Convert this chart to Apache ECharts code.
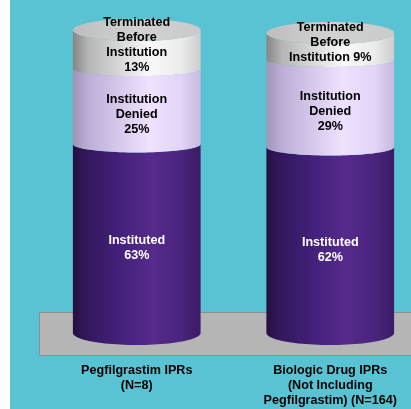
<!DOCTYPE html>
<html><head><meta charset="utf-8">
<script src="https://cdn.jsdelivr.net/npm/echarts@6/dist/echarts.min.js"></script>
<style>html,body{margin:0;padding:0;background:#fff}#c{width:411px;height:409px}</style>
</head><body><div id="c"></div>
<script>
const categories = ['Pegfilgrastim IPRs\n(N=8)', 'Biologic Drug IPRs\n(Not Including\nPegfilgrastim) (N=164)'];
const instituted = [63, 62];
const denied = [25, 29];
const terminated = [13, 9];
const institutedLabels = ['Instituted\n63%', 'Instituted\n62%'];
const deniedLabels = ['Institution\nDenied\n25%', 'Institution\nDenied\n29%'];
const terminatedLabels = ['Terminated\nBefore\nInstitution\n13%', 'Terminated\nBefore\nInstitution 9%'];

const FONT = '"Liberation Sans", Arial, sans-serif';
function grad(stops){return {type:'linear',x:0,y:0,x2:1,y2:0,colorStops:stops.map(s=>({offset:s[0],color:s[1]}))};}
const segs = [
  {name:'Instituted', data:instituted, labels:institutedLabels, textColor:'#fff', dy:10,
   fill:grad([[0,'#22103E'],[0.07,'#301657'],[0.35,'#42207A'],[0.62,'#562A8B'],[0.85,'#4A247D'],[1,'#391B66']])},
  {name:'Denied', data:denied, labels:deniedLabels, textColor:'#000', dy:8,
   fill:grad([[0,'#A094B6'],[0.12,'#BCAED6'],[0.6,'#EEE2FF'],[0.85,'#E1D4F6'],[1,'#C8B9E0']])},
  {name:'Terminated', data:terminated, labels:terminatedLabels, textColor:'#000', dy:-4,
   fill:grad([[0,'#858585'],[0.12,'#B5B5B5'],[0.6,'#F9F9F9'],[0.85,'#EBEBEB'],[1,'#CDCDCD']])}
];
const topFace = grad([[0,'#BDBDBD'],[0.5,'#D2D2D2'],[1,'#CACACA']]);
const TOP_RY = 11;
function ryAt(y){ return Math.max(6, 7 + (y - 65) * 5 / 268); }
function arc(cx, cy, rx, ry, from, to, n){
  const pts=[];
  for(let i=0;i<=n;i++){const a=from+(to-from)*i/n; pts.push([cx+rx*Math.cos(a), cy+ry*Math.sin(a)]);}
  return pts;
}

const series = segs.map((s, si) => {
  const data = s.data.map((v, i) => {
    let base = 0;
    for (let k = 0; k < si; k++) base += segs[k].data[i];
    return [i, base, base + v];
  });
  const isTop = si === segs.length - 1;
  return {
    type:'custom', name:s.name, data:data, encode:{x:0, y:[1,2]}, clip:false,
    renderItem:function(params, api){
      const idx = api.value(0), lo = api.value(1), hi = api.value(2);
      const c0 = api.coord([idx, lo]), c1 = api.coord([idx, hi]);
      const w = api.size([1,0])[0] * 0.66;
      const cx = c0[0], rx = w/2;
      const yB = c0[1], yT = c1[1];
      const ryT = isTop ? TOP_RY : ryAt(yT);
      const ryB = si === 0 ? 12 : ryAt(yB);
      const pts = arc(cx, yT, rx, ryT, Math.PI, 0, 48).concat(arc(cx, yB, rx, ryB, 0, Math.PI, 48));
      const children = [{type:'polygon', shape:{points:pts}, style:{fill:s.fill}}];
      if (isTop) {
        children.push({type:'polygon', shape:{points:arc(cx, yT, rx, ryT, 0, Math.PI*2, 96)}, style:{fill:topFace}});
      }
      children.push({type:'text', z2:10, style:{text:s.labels[idx], x:cx, y:(yT+yB)/2 + s.dy,
        align:'center', verticalAlign:'middle', fill:s.textColor, fontSize:12.6, fontWeight:'bold',
        fontFamily:FONT, lineHeight:15}});
      return {type:'group', children:children};
    }
  };
});

const chart = echarts.init(document.getElementById('c'));
chart.setOption({
  backgroundColor:'#5AC3D3',
  animation:false,
  graphic:[
    {type:'rect', z:-10, shape:{x:0,y:0,width:10,height:409}, style:{fill:'#ffffff'}},
    {type:'rect', z:-5, shape:{x:39.5,y:312.5,width:380,height:43}, style:{fill:'#B5B5B5', stroke:'#8E8E8E', lineWidth:1}}
  ],
  grid:{left:40, top:33, width:387, height:300, containLabel:false, outerBoundsMode:'none'},
  xAxis:{type:'category', data:categories, axisLine:{show:false}, axisTick:{show:false}, splitLine:{show:false},
    axisLabel:{interval:0, margin:30, color:'#000', fontSize:12.6, fontWeight:'bold', fontFamily:FONT, lineHeight:15}},
  yAxis:{type:'value', min:0, max:100, show:false, splitLine:{show:false}},
  series:series
});
</script></body></html>
